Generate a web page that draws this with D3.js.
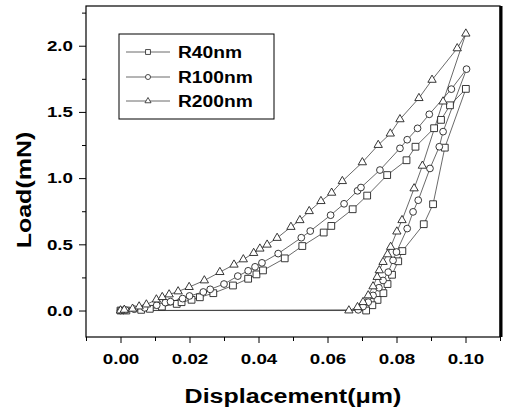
<!DOCTYPE html>
<html lang="en">
<head>
    <meta charset="UTF-8">
    <title>Load-displacement</title>
    <script src="https://cdn.jsdelivr.net/npm/d3@7"></script>
    <style>
        body { margin: 0; background: #fff; }
        text { font-family: "Liberation Sans", Arial, sans-serif; font-weight: bold; fill: #000; }
    </style>
</head>
<body>
<script>
    // loading / unloading points, [displacement um, load mN]
    const r40Load = [[0.000, 0.000], [0.0017, 0.000], [0.006, 0.005], [0.0085, 0.013], [0.012, 0.030],
        [0.0163, 0.050], [0.0177, 0.063], [0.0206, 0.081], [0.023, 0.100], [0.0269, 0.131],
        [0.0326, 0.189], [0.037, 0.240], [0.0394, 0.273], [0.0413, 0.303], [0.0476, 0.394],
        [0.0527, 0.487], [0.0589, 0.589], [0.0611, 0.639], [0.0673, 0.765], [0.0715, 0.868],
        [0.0773, 1.023], [0.0829, 1.135], [0.0855, 1.237], [0.0909, 1.377], [0.0929, 1.440],
        [0.0955, 1.550], [0.1001, 1.674]]
    const r40Unload = [[0.094, 1.230], [0.0906, 0.803], [0.0879, 0.652], [0.0817, 0.449], [0.0805, 0.372],
        [0.0787, 0.270], [0.0774, 0.200], [0.0762, 0.131], [0.0745, 0.080], [0.0730, 0.040], [0.0712, 0.000]]
    const r100Load = [[0.000, 0.000], [0.0015, 0.003], [0.004, 0.010], [0.007, 0.020], [0.0105, 0.040],
        [0.013, 0.060], [0.0145, 0.067], [0.018, 0.090], [0.020, 0.110], [0.024, 0.140],
        [0.026, 0.160], [0.030, 0.200], [0.034, 0.260], [0.037, 0.300], [0.039, 0.330],
        [0.041, 0.360], [0.0457, 0.430], [0.0524, 0.550], [0.055, 0.600], [0.0609, 0.720],
        [0.0648, 0.806], [0.0687, 0.904], [0.0697, 0.929], [0.0752, 1.061], [0.081, 1.225],
        [0.0831, 1.290], [0.0861, 1.376], [0.0895, 1.482], [0.0959, 1.672], [0.1003, 1.823]]
    const r100Unload = [[0.0935, 1.351], [0.0924, 1.237], [0.0897, 1.073], [0.0863, 0.833], [0.0848, 0.745],
        [0.0831, 0.619], [0.080, 0.442], [0.079, 0.379], [0.0776, 0.290], [0.0761, 0.227],
        [0.0749, 0.172], [0.0732, 0.114], [0.0718, 0.063], [0.0703, 0.030], [0.0689, 0.005]]
    const r200Load = [[0.000, 0.000], [0.0011, 0.005], [0.0035, 0.013], [0.0054, 0.030], [0.0075, 0.045],
        [0.0104, 0.083], [0.0121, 0.101], [0.0141, 0.121], [0.0167, 0.144], [0.0199, 0.177],
        [0.0243, 0.227], [0.0288, 0.290], [0.0329, 0.346], [0.0356, 0.386], [0.0386, 0.434],
        [0.0404, 0.467], [0.0425, 0.497], [0.0454, 0.548], [0.0494, 0.631], [0.052, 0.682],
        [0.0547, 0.750], [0.0581, 0.826], [0.0612, 0.889], [0.0643, 0.977], [0.0701, 1.119],
        [0.0747, 1.250], [0.0782, 1.336], [0.081, 1.444], [0.0865, 1.604], [0.0903, 1.742],
        [0.0976, 1.980], [0.1001, 2.091]]
    const r200Unload = [[0.0935, 1.578], [0.0875, 1.093], [0.0851, 0.922], [0.0816, 0.682], [0.0801, 0.596],
        [0.0783, 0.480], [0.0774, 0.424], [0.0761, 0.366], [0.075, 0.303], [0.0744, 0.253],
        [0.0732, 0.182], [0.0718, 0.114], [0.0703, 0.063], [0.0687, 0.025], [0.0662, 0.000]]

    const seriesNames = ['R40nm', 'R100nm', 'R200nm']
    const xTicks = [0.00, 0.02, 0.04, 0.06, 0.08, 0.10]
    const xMinor = [-0.01, 0.01, 0.03, 0.05, 0.07, 0.09, 0.11]
    const yTicks = [0.0, 0.5, 1.0, 1.5, 2.0]
    const yMinor = [0.25, 0.75, 1.25, 1.75, 2.25]

    const series = [
        {name: seriesNames[0], load: r40Load, unload: r40Unload, shape: d3.symbolSquare, size: 46, legendSize: 24},
        {name: seriesNames[1], load: r100Load, unload: r100Unload, shape: d3.symbolCircle, size: 36, legendSize: 20},
        {name: seriesNames[2], load: r200Load, unload: r200Unload, shape: d3.symbolTriangle, size: 30, legendSize: 16}
    ]

    const [width, height] = [505, 410]
    const plot = {left: 86, right: 500, top: 6, bottom: 337}
    const stretch = 1.25 // reference lettering is wide

    const svg = d3.select('body').append('svg')
        .attr('width', width)
        .attr('height', height)

    const x = d3.scaleLinear().domain([-0.01, 0.11]).range([plot.left, plot.right])
    const y = d3.scaleLinear().domain([-0.2, 2.3]).range([plot.bottom, plot.top])

    const widen = (sel, k) => sel.each(function () {
        const len = this.getComputedTextLength()
        d3.select(this).attr('textLength', len * k).attr('lengthAdjust', 'spacingAndGlyphs')
    })

    // axes, major with labels and minor without
    svg.append('g').attr('class', 'x-axis')
        .attr('transform', `translate(0, ${plot.bottom})`)
        .call(d3.axisBottom(x).tickValues(xTicks).tickSize(6).tickPadding(10).tickFormat(d3.format('.2f')))
    svg.append('g').attr('transform', `translate(0, ${plot.bottom})`)
        .call(d3.axisBottom(x).tickValues(xMinor).tickSize(4).tickFormat(''))
        .call(g => g.select('.domain').remove())

    svg.append('g').attr('class', 'y-axis')
        .attr('transform', `translate(${plot.left}, 0)`)
        .call(d3.axisLeft(y).tickValues(yTicks).tickSize(7).tickPadding(6).tickFormat(d3.format('.1f')))
    svg.append('g').attr('transform', `translate(${plot.left}, 0)`)
        .call(d3.axisLeft(y).tickValues(yMinor).tickSize(4).tickFormat(''))
        .call(g => g.select('.domain').remove())

    svg.selectAll('.x-axis .domain, .y-axis .domain').remove()
    svg.selectAll('.tick line').attr('stroke', '#000').attr('stroke-width', 1)
    svg.selectAll('.x-axis text, .y-axis text')
        .attr('font-family', '"Liberation Sans", Arial, sans-serif')
        .attr('font-weight', 'bold')
        .attr('font-size', 15)
        .attr('fill', '#000')
        .call(widen, stretch)

    // frame
    svg.append('rect')
        .attr('x', plot.left).attr('y', plot.top)
        .attr('width', plot.right - plot.left).attr('height', plot.bottom - plot.top)
        .attr('fill', 'none').attr('stroke', '#000').attr('stroke-width', 1.2)
    svg.append('line')
        .attr('x1', plot.right + 1).attr('x2', plot.right + 1)
        .attr('y1', plot.top).attr('y2', plot.bottom)
        .attr('stroke', '#000').attr('stroke-width', 3)

    // curves: loading, unloading, then back along zero load
    const line = d3.line().x(d => x(d[0])).y(d => y(d[1]))
    series.forEach(s => {
        const pts = s.load.concat(s.unload).concat([s.load[0]])
        svg.append('path')
            .attr('d', line(pts))
            .attr('fill', 'none')
            .attr('stroke', '#444')
            .attr('stroke-width', 0.8)
    })
    series.forEach(s => {
        svg.append('g').selectAll('path')
            .data(s.load.concat(s.unload))
            .join('path')
            .attr('transform', d => `translate(${x(d[0])}, ${y(d[1])})`)
            .attr('d', d3.symbol().type(s.shape).size(s.size))
            .attr('fill', '#fff')
            .attr('stroke', '#222')
            .attr('stroke-width', 0.9)
    })

    // legend
    const legend = svg.append('g').attr('transform', 'translate(119, 34)')
    legend.append('rect')
        .attr('width', 155).attr('height', 85)
        .attr('fill', '#fff').attr('stroke', '#000').attr('stroke-width', 1)
    const rowY = [18, 43, 67]
    series.forEach((s, i) => {
        const row = legend.append('g').attr('transform', `translate(0, ${rowY[i]})`)
        row.append('line').attr('x1', 7).attr('x2', 51)
            .attr('stroke', '#444').attr('stroke-width', 0.8)
        row.append('path')
            .attr('transform', 'translate(29, 0)')
            .attr('d', d3.symbol().type(s.shape).size(s.legendSize))
            .attr('fill', '#fff').attr('stroke', '#222').attr('stroke-width', 0.8)
        row.append('text')
            .attr('x', 59).attr('y', 6)
            .attr('font-size', 16)
            .text(s.name)
            .call(widen, 1.2)
    })

    // axis titles
    svg.append('text')
        .attr('x', 293).attr('y', 403)
        .attr('text-anchor', 'middle')
        .attr('font-size', 20)
        .text('Displacement(\u03bcm)')
        .call(widen, stretch)
    svg.append('text')
        .attr('transform', 'translate(31, 190) rotate(-90)')
        .attr('text-anchor', 'middle')
        .attr('font-size', 20)
        .text('Load(mN)')
        .call(widen, stretch)
</script>
</body>
</html>
